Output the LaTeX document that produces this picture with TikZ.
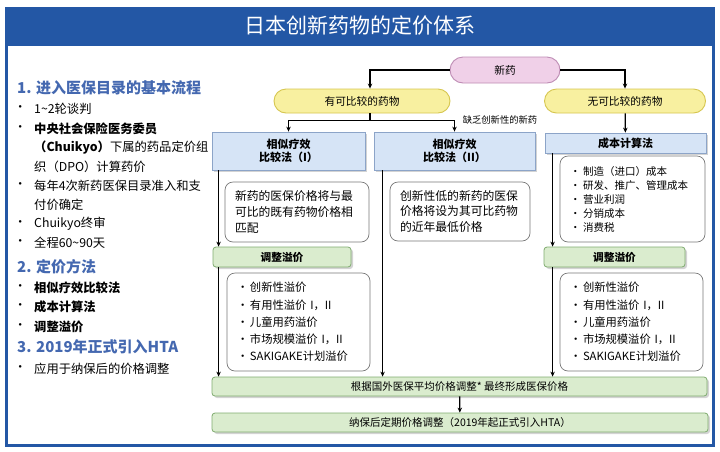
\documentclass[tikz,border=0pt]{standalone}
\usepackage{fontspec}
\setmainfont{Noto Sans CJK SC}
\usetikzlibrary{arrows.meta, positioning, shadows}

\definecolor{frameblue}{RGB}{35,87,165}
\definecolor{headblue}{RGB}{68,104,176}
\definecolor{pinkfill}{RGB}{240,208,232}
\definecolor{pinkline}{RGB}{190,140,180}
\definecolor{yelfill}{RGB}{248,240,160}
\definecolor{yelline}{RGB}{214,198,80}
\definecolor{bluefill}{RGB}{214,228,246}
\definecolor{blueline}{RGB}{140,164,200}
\definecolor{grnfill}{RGB}{218,236,206}
\definecolor{grnline}{RGB}{128,172,112}
\definecolor{noteline}{RGB}{120,120,120}

\newcommand{\itm}[1]{\makebox[13pt][l]{•}#1}

\begin{document}
\begin{tikzpicture}[x=1pt, y=-1pt, >={Stealth[length=5pt, width=4.5pt]},
    conn/.style={line width=1.3pt, ->},
    pill/.style={draw, line width=0.9pt, rounded corners=12pt, minimum height=24pt, font=\fontsize{10.7}{12}\selectfont},
    method/.style={draw=blueline, fill=bluefill, line width=0.8pt, align=center, font=\bfseries\fontsize{11}{13}\selectfont,
        drop shadow={shadow xshift=2pt, shadow yshift=-2pt, opacity=0.35}},
    adjust/.style={draw=grnline, fill=grnfill, line width=0.8pt, rounded corners=3pt, minimum height=20pt, font=\fontsize{10.5}{12}\selectfont,
        drop shadow={shadow xshift=2pt, shadow yshift=-2pt, opacity=0.35}},
    note/.style={draw=noteline, line width=0.7pt, rounded corners=8pt, align=left, inner xsep=10pt},
    head/.style={anchor=west, text=headblue, font=\bfseries\fontsize{15}{18}\selectfont, inner sep=0pt},
    cont/.style={anchor=west, font=\fontsize{12.3}{15}\selectfont, inner sep=0pt},
    item/.style={cont, label={[font=\fontsize{12.3}{15}\selectfont, label distance=4pt]left:•}}]

\useasboundingbox (0,0) rectangle (720,451);

% frame and title
\fill[frameblue] (5,6.5) rectangle (715,46);
\draw[frameblue, line width=3pt] (6.5,8) rectangle (713.5,445.5);
\node[text=white, font=\fontsize{21}{24}\selectfont] (title) at (360,26) {日本创新药物的定价体系};

% left column
\node[head] (h1) at (17,88) {1. 进入医保目录的基本流程};
\node[item] (a1) at (34,109) {1\textasciitilde2轮谈判};
\node[item] (a2) at (34,129) {\bfseries 中央社会保险医务委员};
\node[cont] (a3) at (34,148) {\textbf{（Chuikyo）}下属的药品定价组};
\node[cont] (a4) at (34,167) {织（DPO）计算药价};
\node[item] (a5) at (34,186) {每年4次新药医保目录准入和支};
\node[cont] (a6) at (34,205) {付价确定};
\node[item] (a7) at (34,224) {Chuikyo终审};
\node[item] (a8) at (34,243) {全程60\textasciitilde90天};
\node[head] (h2) at (17,267) {2. 定价方法};
\node[item] (b1) at (34,288) {\bfseries 相似疗效比较法};
\node[item] (b2) at (34,307) {\bfseries 成本计算法};
\node[item] (b3) at (34,327) {\bfseries 调整溢价};
\node[head] (h3) at (17,347) {3. 2019年正式引入HTA};
\node[item] (c1) at (34,369) {应用于纳保后的价格调整};

% top of the tree
\node[pill, draw=pinkline, fill=pinkfill, rounded corners=13pt, minimum width=110pt, minimum height=26pt] (xin) at (505,70) {新药};
\node[pill, draw=yelline, fill=yelfill, minimum width=176pt] (you) at (362,101) {有可比较的药物};
\node[pill, draw=yelline, fill=yelfill, minimum width=161pt] (wu) at (625,101) {无可比较的药物};

\node[method, minimum width=153pt, minimum height=38pt] (m1) at (288.5,151) {相似疗效\\比较法（I）};
\node[method, minimum width=161pt, minimum height=38pt] (m2) at (454.5,151) {相似疗效\\比较法（II）};
\node[method, minimum width=161pt, minimum height=20pt] (m3) at (625.5,143) {成本计算法};
\node[font=\fontsize{9.3}{10}\selectfont] (lack) at (500,120) {缺乏创新性的新药};

\draw[conn] (xin.west) -| ([xshift=8pt]you.north);
\draw[conn] (xin.east) -| (wu.north);
\draw[line width=1.3pt] ([xshift=8pt]you.south) -- ++(0,7) coordinate (fork);
\draw[conn] (fork) -| (m1.north);
\draw[conn] (fork) -| (m2.north);
\draw[conn] (wu) -- (m3);

% boxes under the methods
\node[note, text width=124pt, minimum height=60pt, font=\fontsize{11.8}{15.7}\selectfont] (n1) at (297,212)
    {新药的医保价格将与最\\可比的既有药物价格相\\匹配};
\node[note, text width=120pt, minimum height=59pt, font=\fontsize{11.8}{15.7}\selectfont] (n2) at (460,211.5)
    {创新性低的新药的医保\\价格将设为其可比药物\\的近年最低价格};
\node[note, text width=125pt, minimum height=86pt, font=\fontsize{10.5}{14}\selectfont] (cost) at (632.5,199)
    {\itm{制造（进口）成本}\\\itm{研发、推广、管理成本}\\\itm{营业利润}\\\itm{分销成本}\\\itm{消费税}};

\node[adjust, font=\bfseries\fontsize{10.7}{12}\selectfont, minimum width=138pt] (adj1) at (282,257) {调整溢价};
\node[adjust, font=\bfseries\fontsize{10.7}{12}\selectfont, minimum width=141pt] (adj3) at (614.5,257) {调整溢价};

\node[note, text width=123pt, minimum height=98pt, font=\fontsize{11.3}{17.2}\selectfont] (p1) at (298.5,322)
    {\itm{创新性溢价}\\\itm{有用性溢价 I，II}\\\itm{儿童用药溢价}\\\itm{市场规模溢价 I，II}\\\itm{SAKIGAKE计划溢价}};
\node[note, text width=123pt, minimum height=98pt, font=\fontsize{11.3}{17.2}\selectfont] (p3) at (631.5,322)
    {\itm{创新性溢价}\\\itm{有用性溢价 I，II}\\\itm{儿童用药溢价}\\\itm{市场规模溢价 I，II}\\\itm{SAKIGAKE计划溢价}};

\node[adjust, minimum width=495pt, minimum height=19pt] (fin1) at (459.5,386.5) {根据国外医保平均价格调整* 最终形成医保价格};
\node[adjust, minimum width=496pt, minimum height=19pt] (fin2) at (460,422.5) {纳保后定期价格调整（2019年起正式引入HTA）};

% vertical flows
\draw[conn] ([xshift=7pt]m1.south west) -- ([xshift=7pt]m1.south west |- adj1.north);
\draw[conn] ([xshift=7pt]m1.south west |- adj1.south) -- ([xshift=7pt]m1.south west |- fin1.north);
\draw[conn] ([xshift=9pt]m2.south west) -- ([xshift=9pt]m2.south west |- fin1.north);
\draw[conn] ([xshift=8pt]m3.south west) -- ([xshift=8pt]m3.south west |- adj3.north);
\draw[conn] ([xshift=8pt]m3.south west |- adj3.south) -- ([xshift=8pt]m3.south west |- fin1.north);
\draw[conn] (fin1) -- (fin2);
\end{tikzpicture}
\end{document}
